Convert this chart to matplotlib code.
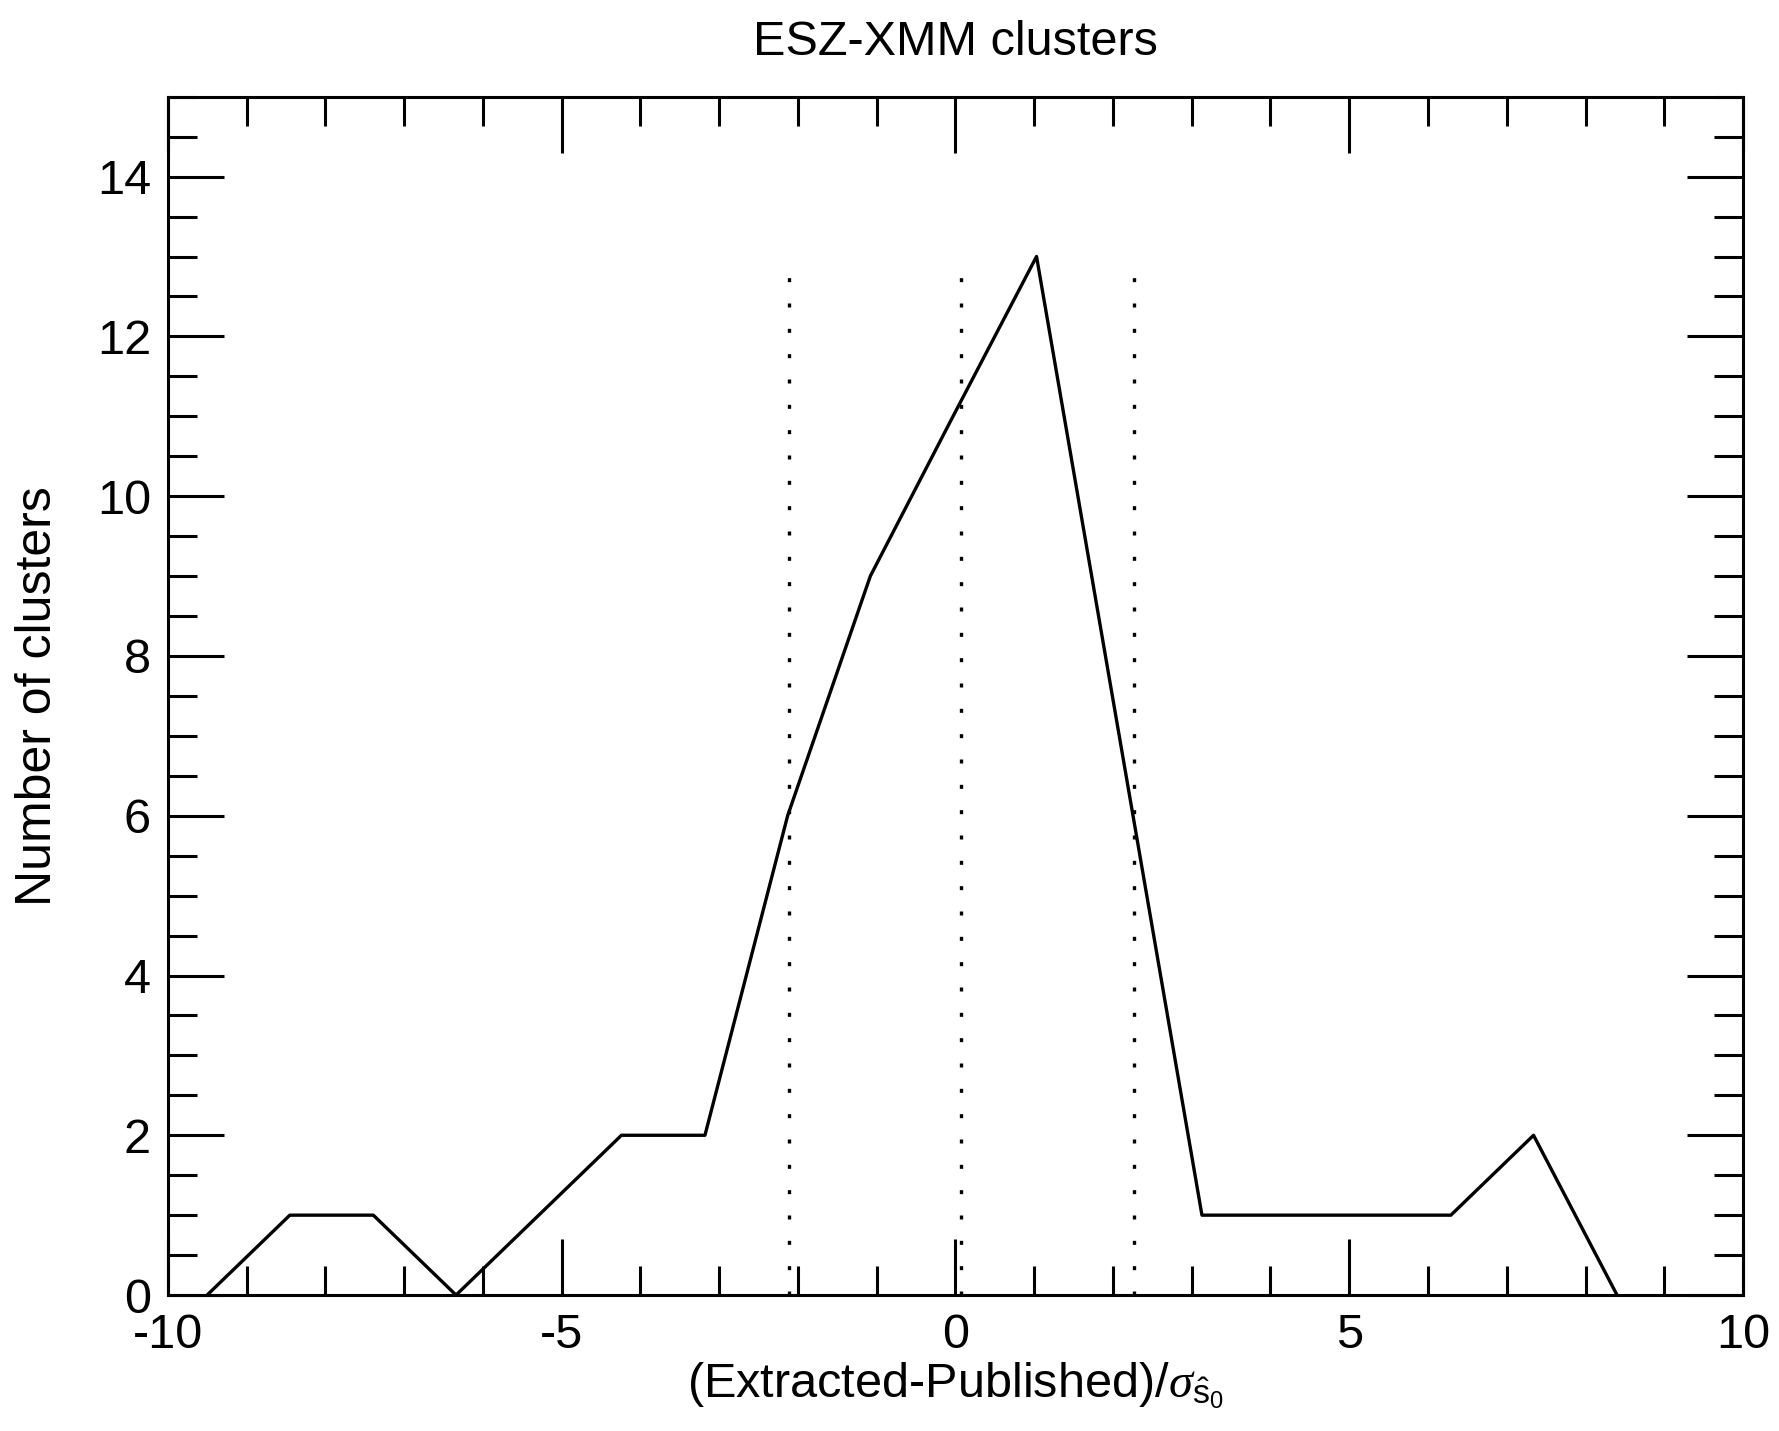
import matplotlib
matplotlib.use("Agg")
import matplotlib.pyplot as plt
from matplotlib.ticker import MultipleLocator

plt.rcParams['font.family'] = ['Liberation Sans', 'DejaVu Sans']
plt.rcParams['mathtext.fontset'] = 'custom'
plt.rcParams['mathtext.rm'] = 'Liberation Sans'
plt.rcParams['mathtext.it'] = 'Liberation Serif:italic'

# histogram of (extracted - published) / sigma
bin_centers = [-9.50, -8.45, -7.39, -6.34, -5.29, -4.24, -3.18, -2.13, -1.08,
               -0.03, 1.03, 2.08, 3.13, 4.18, 5.24, 6.29, 7.34, 8.40]
counts = [0, 1, 1, 0, 1, 2, 2, 6, 9, 11, 13, 7, 1, 1, 1, 1, 2, 0]

# mean and +/- 1 sigma markers
vline_x = [-2.11, 0.07, 2.27]
vline_top = 13

title = "ESZ-XMM clusters"
xlabel = r"(Extracted-Published)/$\sigma_{\hat{\mathrm{s}}_0}$"
ylabel = "Number of clusters"

fig = plt.figure(figsize=(17.79, 14.31), dpi=100)
ax = fig.add_axes([0.0943, 0.0950, 0.9798 - 0.0943, 0.9324 - 0.0950])

lw = 2.4
ax.plot(bin_centers, counts, color="black", linewidth=lw)
for xv in vline_x:
    ax.plot([xv, xv], [0, vline_top], color="black", linewidth=lw,
            linestyle=(0, (1.2, 6.4)))

ax.set_xlim(-10, 10)
ax.set_ylim(0, 15)
ax.xaxis.set_major_locator(MultipleLocator(5))
ax.xaxis.set_minor_locator(MultipleLocator(1))
ax.yaxis.set_major_locator(MultipleLocator(2))
ax.yaxis.set_minor_locator(MultipleLocator(0.5))

ax.tick_params(which="both", direction="in", top=True, right=True,
               width=2.2, labelsize=35)
ax.tick_params(axis="y", pad=12)
ax.tick_params(axis="x", pad=13)
ax.tick_params(which="major", length=40)
ax.tick_params(which="minor", length=21)
for sp in ax.spines.values():
    sp.set_linewidth(2.2)

ax.set_xticks([-10, -5, 0, 5, 10])
ax.set_xticklabels(["-10", "-5", "0", "5", "10"])

ax.set_title(title, fontsize=35, pad=30)
ax.set_xlabel(xlabel, fontsize=35, labelpad=2)
ax.set_ylabel(ylabel, fontsize=36, labelpad=26)

fig.savefig("out.png", dpi=100)
